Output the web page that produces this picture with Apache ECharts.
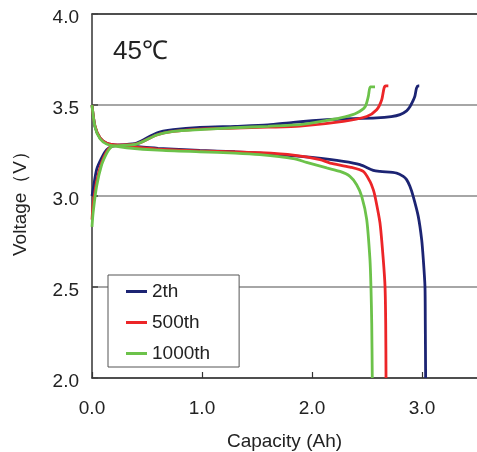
<!DOCTYPE html>
<html>
<head>
<meta charset="utf-8">
<script src="https://cdn.jsdelivr.net/npm/echarts@6/dist/echarts.min.js"></script>
<style>html,body{margin:0;padding:0;background:#fff}#c{width:477px;height:452px}</style>
</head>
<body>
<div id="c"></div>
<script>
const seriesNames = ['2th', '500th', '1000th'];
const colors = ['#1c2473', '#ec2528', '#6cc24a'];

// discharge curves
const dis2thX = [0, 0.027, 0.073, 0.134, 0.194, 0.315, 0.6, 0.98, 1.3, 1.527, 1.83, 2.0, 2.285, 2.436, 2.557, 2.618, 2.77, 2.83, 2.86, 2.89, 2.92, 2.966, 2.997, 3.012, 3.027, 3.03, 3.033];
const dis2thY = [3.5, 3.382, 3.319, 3.29, 3.282, 3.276, 3.262, 3.25, 3.243, 3.235, 3.221, 3.212, 3.19, 3.172, 3.141, 3.135, 3.126, 3.108, 3.09, 3.053, 2.998, 2.888, 2.76, 2.65, 2.503, 2.3, 2.0];
const dis500thX = [0, 0.027, 0.073, 0.134, 0.194, 0.315, 0.6, 0.98, 1.3, 1.527, 1.83, 2.073, 2.164, 2.345, 2.466, 2.527, 2.557, 2.573, 2.618, 2.648, 2.664, 2.67, 2.673];
const dis500thY = [3.5, 3.385, 3.32, 3.29, 3.282, 3.272, 3.258, 3.248, 3.242, 3.238, 3.225, 3.2, 3.181, 3.159, 3.135, 3.08, 3.035, 2.998, 2.852, 2.65, 2.5, 2.3, 2.0];
const dis1000thX = [0, 0.027, 0.073, 0.134, 0.194, 0.315, 0.6, 0.98, 1.3, 1.527, 1.83, 1.95, 2.134, 2.255, 2.345, 2.406, 2.452, 2.497, 2.527, 2.536, 2.543, 2.548];
const dis1000thY = [3.5, 3.38, 3.315, 3.285, 3.275, 3.265, 3.252, 3.243, 3.236, 3.227, 3.205, 3.185, 3.154, 3.135, 3.108, 3.062, 2.998, 2.872, 2.65, 2.5, 2.3, 2.0];

// charge curves
const chg2thX = [0, 0.01, 0.042, 0.088, 0.134, 0.18, 0.25, 0.406, 0.588, 0.739, 0.982, 1.3, 1.6, 1.83, 2.134, 2.588, 2.72, 2.8, 2.86, 2.89, 2.92, 2.936, 2.95, 2.965, 2.975];
const chg2thY = [3.0, 3.035, 3.145, 3.209, 3.254, 3.272, 3.28, 3.291, 3.346, 3.364, 3.377, 3.383, 3.39, 3.405, 3.419, 3.429, 3.436, 3.447, 3.468, 3.49, 3.525, 3.55, 3.593, 3.605, 3.605];
const chg500thX = [0, 0.01, 0.042, 0.088, 0.134, 0.17, 0.2, 0.406, 0.588, 0.739, 0.982, 1.3, 1.6, 1.89, 2.285, 2.497, 2.588, 2.634, 2.655, 2.67, 2.694];
const chg500thY = [2.87, 2.95, 3.08, 3.185, 3.245, 3.27, 3.278, 3.286, 3.335, 3.355, 3.368, 3.373, 3.378, 3.384, 3.41, 3.437, 3.474, 3.529, 3.593, 3.605, 3.605];
const chg1000thX = [0, 0.01, 0.042, 0.088, 0.134, 0.165, 0.2, 0.406, 0.588, 0.739, 0.982, 1.3, 1.6, 1.89, 2.134, 2.3, 2.406, 2.482, 2.512, 2.53, 2.573];
const chg1000thY = [2.83, 2.907, 3.053, 3.172, 3.236, 3.264, 3.275, 3.285, 3.335, 3.355, 3.365, 3.375, 3.383, 3.392, 3.415, 3.435, 3.456, 3.49, 3.547, 3.6, 3.6];

const yTicks = [2.0, 2.5, 3.0, 3.5, 4.0];
const xTicks = [0.0, 1.0, 2.0, 3.0];

const zip = (xs, ys) => xs.map((x, i) => [x, ys[i]]);
const curves = [
  [zip(dis2thX, dis2thY), zip(chg2thX, chg2thY)],
  [zip(dis500thX, dis500thY), zip(chg500thX, chg500thY)],
  [zip(dis1000thX, dis1000thY), zip(chg1000thX, chg1000thY)]
];

const FONT = 'Liberation Sans, Arial, sans-serif';
const series = [];
curves.forEach((pair, i) => {
  pair.forEach(d => {
    series.push({
      name: seriesNames[i], type: 'line', data: d, showSymbol: false, symbol: 'none',
      smooth: 0.25, color: colors[i], lineStyle: { width: 2.8, color: colors[i] },
      animation: false, z: 2 + i
    });
  });
});

const chart = echarts.init(document.getElementById('c'), null, { renderer: 'canvas' });
chart.setOption({
  backgroundColor: '#fff',
  animation: false,
  grid: { left: 92, top: 14, right: 0, bottom: 74, containLabel: false, outerBoundsMode: 'none' },
  legend: {
    data: seriesNames, orient: 'vertical', left: 108, top: 275,
    icon: 'rect', itemWidth: 21, itemHeight: 3, itemGap: 12,
    padding: [7, 29, 4, 18], borderColor: '#555', borderWidth: 1, backgroundColor: '#fff',
    textStyle: { fontFamily: FONT, fontSize: 19, color: '#222' }
  },
  graphic: [{
    type: 'text', left: 113, top: 39, z: 10,
    style: { text: '45℃', font: '26px ' + FONT, fill: '#222' }
  }],
  xAxis: [{
    type: 'value', min: 0, max: 3.5, interval: 1,
    name: 'Capacity (Ah)', nameLocation: 'middle', nameGap: 54,
    nameTextStyle: { fontFamily: FONT, fontSize: 19, color: '#222' },
    axisLine: { show: true, lineStyle: { color: '#333', width: 1.5 } },
    axisTick: { show: true, inside: true, length: 6, lineStyle: { color: '#333', width: 1.2 } },
    axisLabel: {
      fontFamily: FONT, fontSize: 19, color: '#222', margin: 21, showMaxLabel: false,
      formatter: v => xTicks.some(t => Math.abs(t - v) < 1e-6) ? v.toFixed(1) : ''
    },
    splitLine: { show: false }
  }, {
    type: 'value', position: 'top', min: 0, max: 3.5,
    axisLine: { show: true, lineStyle: { color: '#333', width: 1.5 } },
    axisTick: { show: false }, axisLabel: { show: false }, splitLine: { show: false }
  }],
  yAxis: {
    type: 'value', min: 2, max: 4, interval: 0.5,
    name: 'Voltage（V）', nameLocation: 'middle', nameGap: 62,
    nameTextStyle: { fontFamily: FONT, fontSize: 19, color: '#222', padding: [0, 0, 0, -6] },
    axisLine: { show: true, lineStyle: { color: '#333', width: 1.5 } },
    axisTick: { show: true, inside: true, length: 6, lineStyle: { color: '#444', width: 1.5 } },
    axisLabel: {
      fontFamily: FONT, fontSize: 19, color: '#222', margin: 13,
      verticalAlign: 'top', lineHeight: 8,
      formatter: v => yTicks.some(t => Math.abs(t - v) < 1e-6) ? v.toFixed(1) : ''
    },
    splitLine: { show: true, lineStyle: { color: '#888', width: 1.5 } }
  },
  series: series
});
</script>
</body>
</html>
